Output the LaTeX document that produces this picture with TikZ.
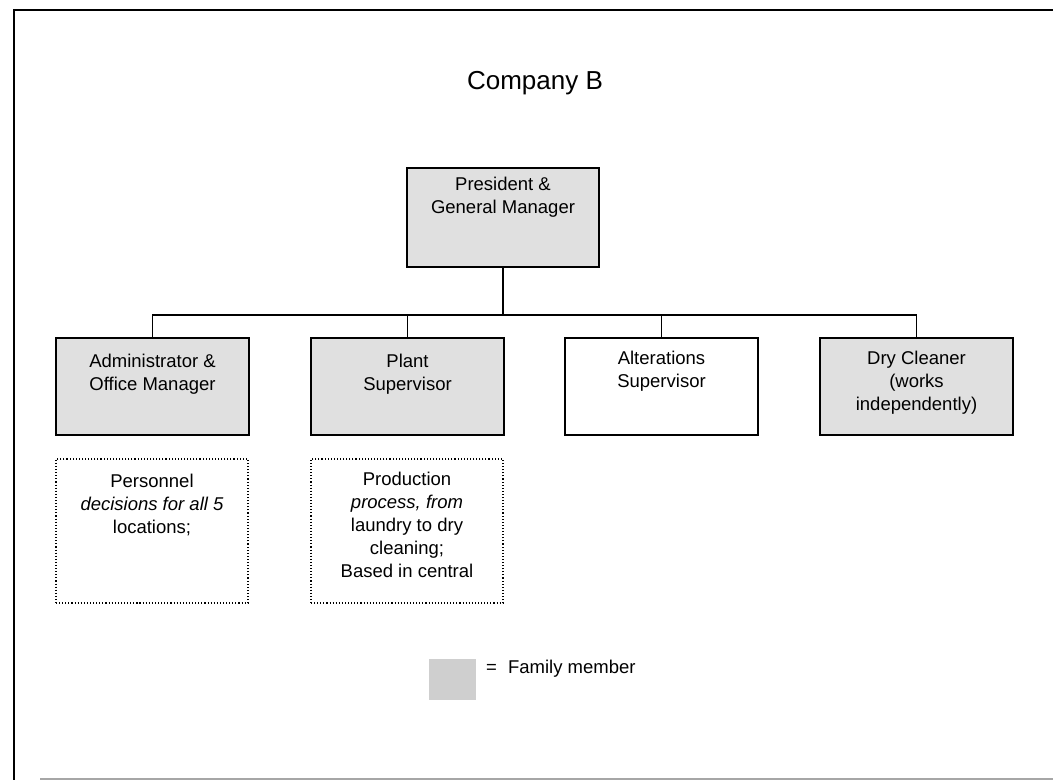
\documentclass[tikz,border=0pt]{standalone}
\usepackage{fontspec}
\setmainfont{Liberation Sans}
\begin{document}
\begin{tikzpicture}[x=1bp,y=-1bp,
  family/.style={fill=gray!24},
  rolebox/.style={draw=black, line width=1.6bp, minimum width=193bp, minimum height=97bp, inner sep=0pt},
  notebox/.style={draw=black, line width=1.1bp, dotted, minimum width=192bp, minimum height=144bp, inner sep=0pt},
  label/.style={align=center, anchor=north, inner sep=0pt, font=\fontsize{18.5bp}{23bp}\selectfont},
  link/.style={draw=black, line width=1.4bp}]
\useasboundingbox (0,0) rectangle (1053,780);
% page frame
\draw[line width=2bp] (1053,10.5) -- (14,10.5) -- (14,780);
\draw[line width=1.2bp, gray!70] (40,779) -- (1053,779);

% title
\node[font=\fontsize{26bp}{30bp}\selectfont, inner sep=0pt] (title) at (535,83) {Company B};

% top position
\node[rolebox, family, minimum width=192bp, minimum height=99bp] (pres) at (503,217.5) {};
\node[label] (presT) at (503,177) {President \&\\General Manager};

% second level positions
\node[rolebox, family] (admin) at (152.5,386.5) {};
\node[label] (adminT) at (152.5,354) {Administrator \&\\Office Manager};
\node[rolebox, family] (plant) at (407.5,386.5) {};
\node[label] (plantT) at (407.5,354) {Plant\\Supervisor};
\node[rolebox] (alter) at (661.5,386.5) {};
\node[label] (alterT) at (661.5,351) {Alterations\\Supervisor};
\node[rolebox, family] (dry) at (916.5,386.5) {};
\node[label] (dryT) at (916.5,351) {Dry Cleaner\\(works\\independently)};

% reporting lines
\coordinate (bus) at (503,315);
\draw[link] (pres.south) -- (bus);
\draw[link] (admin.north) |- (bus) -| (dry.north);
\draw[link] (plant.north) -- (plant.north |- bus);
\draw[link] (alter.north) -- (alter.north |- bus);

% duty notes
\node[notebox] (adminN) at (152,531) {};
\node[label] (adminNT) at (152,474) {Personnel\\\textit{decisions for all 5}\\locations;};
\node[notebox] (plantN) at (407,531) {};
\node[label] (plantNT) at (407,472) {Production\\\textit{process, from}\\laundry to dry\\cleaning;\\Based in central};

% legend
\node[fill=gray!38, minimum width=47bp, minimum height=41bp, inner sep=0pt] (key) at (452.5,679.5) {};
\node[anchor=west, inner sep=0pt, font=\fontsize{18.5bp}{22bp}\selectfont] (keyT) at (486,669) {=\hspace{0.6em}Family member};
\end{tikzpicture}
\end{document}
